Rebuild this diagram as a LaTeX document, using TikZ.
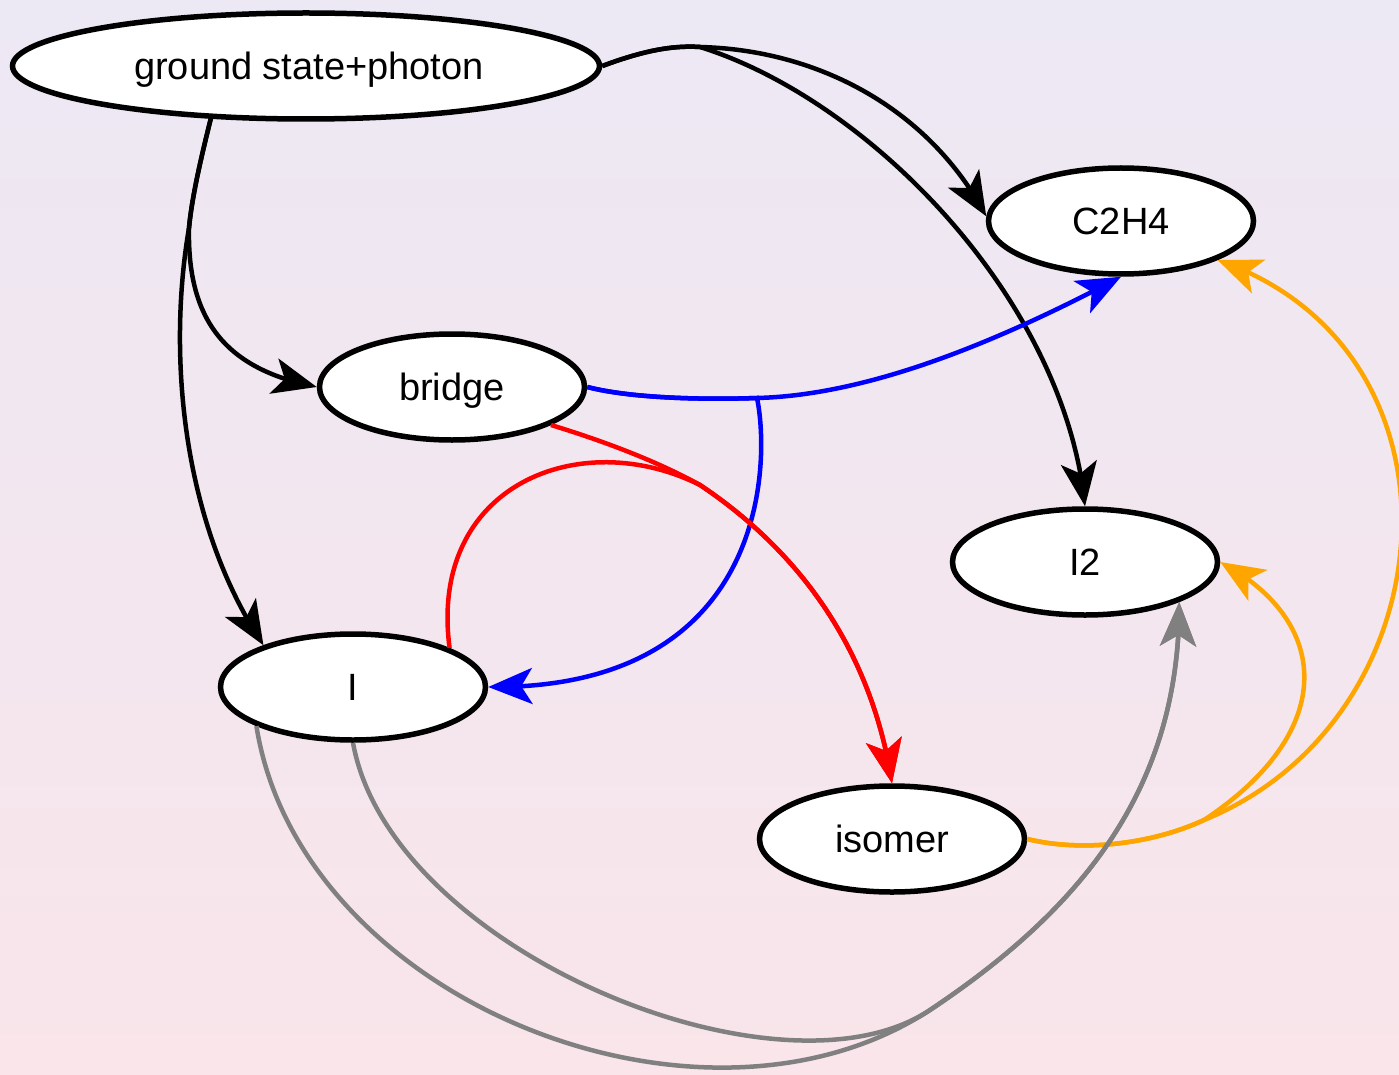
\documentclass[tikz,border=0pt]{standalone}
\usepackage{fontspec}
\setmainfont{Liberation Sans}
\usetikzlibrary{arrows.meta,shapes.geometric,bending}
\definecolor{bgtop}{HTML}{ECE8F4}
\definecolor{bgmid}{HTML}{F3E6EF}
\definecolor{bgbot}{HTML}{F9E5EA}
\definecolor{orng}{HTML}{FFA500}
\definecolor{gry}{HTML}{808080}
\begin{document}
\begin{tikzpicture}[x=1pt,y=-1pt,
  st/.style={ellipse,draw=black,fill=white,line width=5.5pt,inner sep=0pt,
    minimum width=265pt,minimum height=106pt,text height=27pt,text depth=0pt,
    font=\fontsize{38}{42}\selectfont},
  edge/.style={line width=4.5pt,-{Stealth[length=44pt,width=36pt,inset=11pt]}}]
\shade[top color=bgtop,middle color=bgmid,bottom color=bgbot] (0,0) rectangle (1399,1075);
\useasboundingbox (0,0) rectangle (1399,1075);

\node[st,minimum width=587pt] (gsp) at (306,66) {\hspace*{6pt}ground state+photon};
\node[st] (c2h4) at (1121,221) {C2H4};
\node[st] (bridge) at (452,387) {bridge};
\node[st] (i2) at (1085,562) {I2};
\node[st] (i) at (353,687) {I};
\node[st] (isomer) at (892,839) {isomer};

\coordinate (jb) at (700,47);
\coordinate (jk) at (189,228);
\coordinate (jbl) at (757,398);
\coordinate (jr) at (700,485);
\coordinate (jo) at (1204,820);
\coordinate (jg) at (930,1010);

% black
\draw[edge] (gsp.east) .. controls (640,52) and (670,45) .. (jb)
  .. controls (820,50) and (930,110) .. (c2h4.178);
\draw[edge] (gsp.east) .. controls (640,52) and (670,45) .. (jb)
  .. controls (870,100) and (1065,300) .. (i2.north);
\draw[edge] (gsp.209) .. controls (203,150) and (192,195) .. (jk)
  .. controls (187,325) and (230,370) .. (bridge.west);
\draw[edge] (gsp.209) .. controls (203,150) and (192,195) .. (jk)
  .. controls (168,350) and (180,520) .. (i.155);

% blue
\draw[edge,blue] (bridge.east) .. controls (630,398) and (700,400) .. (jbl)
  .. controls (880,395) and (1020,330) .. (c2h4.south);
\draw[edge,blue] (bridge.east) .. controls (630,398) and (700,400) .. (jbl)
  .. controls (770,460) and (770,690) .. (i.east);

% red
\draw[edge,red] (bridge.-21) .. controls (600,440) and (655,460) .. (jr)
  .. controls (790,545) and (870,640) .. (isomer.north);
\draw[edge,red] (i.22) .. controls (428,485) and (580,425) .. (jr)
  .. controls (790,545) and (870,640) .. (isomer.north);

% orange
\draw[edge,orng] (isomer.east) .. controls (1080,852) and (1150,845) .. (jo)
  .. controls (1450,720) and (1480,350) .. (c2h4.-22);
\draw[edge,orng] (isomer.east) .. controls (1080,852) and (1150,845) .. (jo)
  .. controls (1340,730) and (1330,620) .. (i2.east);

% gray
\draw[edge,gry] (i.202) .. controls (300,1000) and (700,1160) .. (jg)
  .. controls (1080,910) and (1180,790) .. (i2.-23);
\draw[edge,gry] (i.south) .. controls (390,950) and (780,1110) .. (jg)
  .. controls (1080,910) and (1180,790) .. (i2.-23);
\end{tikzpicture}
\end{document}
